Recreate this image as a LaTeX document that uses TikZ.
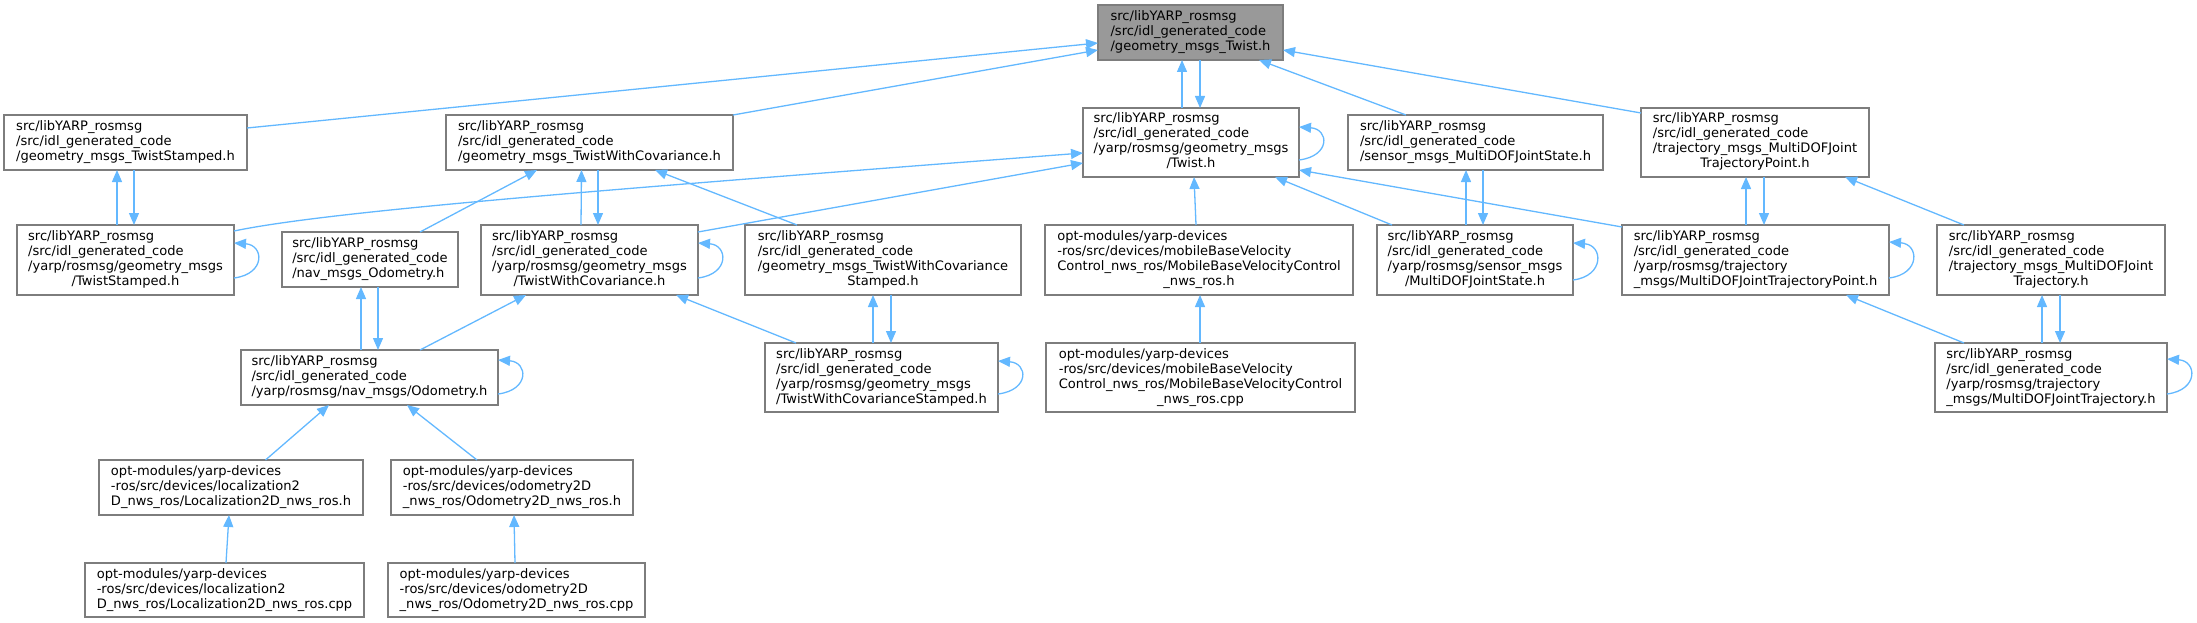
\documentclass[tikz,border=0pt]{standalone}
\usepackage{fontspec}
\setmainfont{DejaVu Sans}
\usetikzlibrary{arrows.meta,calc}
\definecolor{edgeblue}{HTML}{63B8FF}
\definecolor{bordergray}{HTML}{7D7D7D}
\definecolor{rootfill}{HTML}{999999}
\newcommand{\Lthree}[3]{\begin{tabular}{@{}l@{}}#1\\#2\\#3\end{tabular}}
\newcommand{\Lfour}[4]{\begin{tabular}{@{}l@{}}#1\\#2\\#3\\\multicolumn{1}{@{}c@{}}{#4}\end{tabular}}
\newcommand{\SL}{src/libYARP\_rosmsg}
\newcommand{\SI}{/src/idl\_generated\_code}
\newcommand{\OM}{opt-modules/yarp-devices}
\tikzset{
  box/.style={draw=bordergray, line width=1.3pt, fill=white, inner sep=0pt, outer sep=0pt,
    font=\fontsize{13.06}{15}\selectfont},
  lnk/.style={draw=edgeblue, line width=1.3pt, -{Triangle[length=12pt,width=10pt]}},
}
\begin{document}
\begin{tikzpicture}[x=1pt,y=-1pt]
\useasboundingbox (0,0) rectangle (2197,623);
% row 0
\node[box, fill=rootfill, minimum width=185pt, minimum height=55pt] (root) at (1190.5,32.5) {\Lthree{\SL}{\SI}{/geometry\_msgs\_Twist.h}};
% row 1
\node[box, minimum width=243pt, minimum height=55pt] (TS) at (125.5,142.5) {\Lthree{\SL}{\SI}{/geometry\_msgs\_TwistStamped.h}};
\node[box, minimum width=287pt, minimum height=55pt] (TWC) at (589.5,142.5) {\Lthree{\SL}{\SI}{/geometry\_msgs\_TwistWithCovariance.h}};
\node[box, minimum width=216pt, minimum height=69pt] (yTwist) at (1191,142.5) {\Lfour{\SL}{\SI}{/yarp/rosmsg/geometry\_msgs}{/Twist.h}};
\node[box, minimum width=255pt, minimum height=55pt] (SMS) at (1475.5,142.5) {\Lthree{\SL}{\SI}{/sensor\_msgs\_MultiDOFJointState.h}};
\node[box, minimum width=228pt, minimum height=69pt] (TMP) at (1755,142.5) {\Lfour{\SL}{\SI}{/trajectory\_msgs\_MultiDOFJoint}{TrajectoryPoint.h}};
% row 2
\node[box, minimum width=217pt, minimum height=70pt] (yTS) at (125.5,260) {\Lfour{\SL}{\SI}{/yarp/rosmsg/geometry\_msgs}{/TwistStamped.h}};
\node[box, minimum width=176pt, minimum height=55pt] (nav) at (370,259.5) {\Lthree{\SL}{\SI}{/nav\_msgs\_Odometry.h}};
\node[box, minimum width=217pt, minimum height=70pt] (yTWC) at (589.5,260) {\Lfour{\SL}{\SI}{/yarp/rosmsg/geometry\_msgs}{/TwistWithCovariance.h}};
\node[box, minimum width=276pt, minimum height=70pt] (TWCS) at (883,260) {\Lfour{\SL}{\SI}{/geometry\_msgs\_TwistWithCovariance}{Stamped.h}};
\node[box, minimum width=308pt, minimum height=70pt] (MBV) at (1199,260) {\Lfour{\OM}{-ros/src/devices/mobileBaseVelocity}{Control\_nws\_ros/MobileBaseVelocityControl}{\_nws\_ros.h}};
\node[box, minimum width=196pt, minimum height=70pt] (ySMS) at (1475,260) {\Lfour{\SL}{\SI}{/yarp/rosmsg/sensor\_msgs}{/MultiDOFJointState.h}};
\node[box, minimum width=267pt, minimum height=70pt] (yTMP) at (1755.5,260) {\Lfour{\SL}{\SI}{/yarp/rosmsg/trajectory}{\_msgs/MultiDOFJointTrajectoryPoint.h}};
\node[box, minimum width=228pt, minimum height=70pt] (TMJ) at (2051,260) {\Lfour{\SL}{\SI}{/trajectory\_msgs\_MultiDOFJoint}{Trajectory.h}};
% row 3
\node[box, minimum width=257pt, minimum height=55pt] (yOdom) at (369.5,377.5) {\Lthree{\SL}{\SI}{/yarp/rosmsg/nav\_msgs/Odometry.h}};
\node[box, minimum width=233pt, minimum height=69pt] (yTWCS) at (881.5,377.5) {\Lfour{\SL}{\SI}{/yarp/rosmsg/geometry\_msgs}{/TwistWithCovarianceStamped.h}};
\node[box, minimum width=309pt, minimum height=69pt] (MBVcpp) at (1200.5,377.5) {\Lfour{\OM}{-ros/src/devices/mobileBaseVelocity}{Control\_nws\_ros/MobileBaseVelocityControl}{\_nws\_ros.cpp}};
\node[box, minimum width=232pt, minimum height=69pt] (yTMJ) at (2051,377.5) {\Lfour{\SL}{\SI}{/yarp/rosmsg/trajectory}{\_msgs/MultiDOFJointTrajectory.h}};
% row 4
\node[box, minimum width=264pt, minimum height=55pt] (Loch) at (231,487.5) {\Lthree{\OM}{-ros/src/devices/localization2}{D\_nws\_ros/Localization2D\_nws\_ros.h}};
\node[box, minimum width=242pt, minimum height=55pt] (Odoh) at (512,487.5) {\Lthree{\OM}{-ros/src/devices/odometry2D}{\_nws\_ros/Odometry2D\_nws\_ros.h}};
% row 5
\node[box, minimum width=279pt, minimum height=54pt] (Loccpp) at (224.5,590) {\Lthree{\OM}{-ros/src/devices/localization2}{D\_nws\_ros/Localization2D\_nws\_ros.cpp}};
\node[box, minimum width=257pt, minimum height=54pt] (Odocpp) at (516.5,590) {\Lthree{\OM}{-ros/src/devices/odometry2D}{\_nws\_ros/Odometry2D\_nws\_ros.cpp}};

% edges into root
\draw[lnk] ($(TS.north west)+(243,13)$) -- ($(root.north west)+(0,38)$);
\draw[lnk] (TWC.north east) -- ($(root.north west)+(0,45)$);
\draw[lnk] ($(yTwist.north west)+(99,0)$) -- ($(root.north west)+(84,55)$);
\draw[lnk] ($(root.north west)+(102,55)$) -- ($(yTwist.north west)+(117,0)$);
\draw[lnk] ($(SMS.north west)+(58,0)$) -- ($(root.north west)+(161,55)$);
\draw[lnk] ($(TMP.north west)+(0,5)$) -- ($(root.north west)+(185,45)$);
% edges into yTwist
\draw[lnk] ($(yTwist.north west)+(216,52)$) .. controls +(32,-4) and +(30,2) .. ($(yTwist.north west)+(216,19)$);
\draw[lnk] ($(yTS.north west)+(217,6)$) .. controls (330,211) and (600,190) .. ($(yTwist.north west)+(0,45)$);
\draw[lnk] ($(yTWC.north west)+(217,7)$) -- ($(yTwist.north west)+(0,55)$);
\draw[lnk] ($(MBV.north west)+(151,0)$) -- ($(yTwist.north west)+(111,69)$);
\draw[lnk] ($(ySMS.north west)+(15,0)$) -- ($(yTwist.north west)+(192,69)$);
\draw[lnk] ($(yTMP.north west)+(0,2)$) -- ($(yTwist.north west)+(216,62)$);
% sensor
\draw[lnk] ($(ySMS.north west)+(89,0)$) -- ($(SMS.north west)+(118,55)$);
\draw[lnk] ($(SMS.north west)+(135,55)$) -- ($(ySMS.north west)+(106,0)$);
\draw[lnk] ($(ySMS.north west)+(196,55)$) .. controls +(32,-4) and +(30,2) .. ($(ySMS.north west)+(196,18)$);
% trajectory point
\draw[lnk] ($(yTMP.north west)+(124,0)$) -- ($(TMP.north west)+(105,69)$);
\draw[lnk] ($(TMP.north west)+(123,69)$) -- ($(yTMP.north west)+(142,0)$);
\draw[lnk] ($(yTMP.north west)+(267,53)$) .. controls +(32,-4) and +(30,2) .. ($(yTMP.north west)+(267,17)$);
\draw[lnk] ($(TMJ.north west)+(27,0)$) -- ($(TMP.north west)+(204,69)$);
\draw[lnk] ($(yTMJ.north west)+(29,0)$) -- ($(yTMP.north west)+(224,70)$);
% trajectory
\draw[lnk] ($(yTMJ.north west)+(107,0)$) -- ($(TMJ.north west)+(105,70)$);
\draw[lnk] ($(TMJ.north west)+(123,70)$) -- ($(yTMJ.north west)+(125,0)$);
\draw[lnk] ($(yTMJ.north west)+(232,51)$) .. controls +(32,-4) and +(30,2) .. ($(yTMJ.north west)+(232,16)$);
% twist stamped
\draw[lnk] ($(yTS.north west)+(100,0)$) -- ($(TS.north west)+(113,55)$);
\draw[lnk] ($(TS.north west)+(130,55)$) -- ($(yTS.north west)+(117,0)$);
\draw[lnk] ($(yTS.north west)+(217,53)$) .. controls +(32,-4) and +(30,2) .. ($(yTS.north west)+(217,18)$);
% twist with covariance
\draw[lnk] ($(nav.north west)+(138,0)$) -- ($(TWC.north west)+(91,55)$);
\draw[lnk] ($(yTWC.north west)+(100,0)$) -- ($(TWC.north west)+(135.5,55)$);
\draw[lnk] ($(TWC.north west)+(152,55)$) -- ($(yTWC.north west)+(117,0)$);
\draw[lnk] ($(yTWC.north west)+(217,53)$) .. controls +(32,-4) and +(30,2) .. ($(yTWC.north west)+(217,18)$);
\draw[lnk] ($(TWCS.north west)+(52,0)$) -- ($(TWC.north west)+(209,55)$);
\draw[lnk] ($(yOdom.north west)+(179,0)$) -- ($(yTWC.north west)+(45,70)$);
\draw[lnk] ($(yTWCS.north west)+(31,0)$) -- ($(yTWC.north west)+(195,70)$);
% twist with covariance stamped
\draw[lnk] ($(yTWCS.north west)+(108,0)$) -- ($(TWCS.north west)+(128,70)$);
\draw[lnk] ($(TWCS.north west)+(146,70)$) -- ($(yTWCS.north west)+(126,0)$);
\draw[lnk] ($(yTWCS.north west)+(233,51)$) .. controls +(32,-4) and +(30,2) .. ($(yTWCS.north west)+(233,18)$);
% odometry
\draw[lnk] ($(yOdom.north west)+(120,0)$) -- ($(nav.north west)+(79,55)$);
\draw[lnk] ($(nav.north west)+(96,55)$) -- ($(yOdom.north west)+(137,0)$);
\draw[lnk] ($(yOdom.north west)+(257,44)$) .. controls +(32,-4) and +(30,2) .. ($(yOdom.north west)+(257,10)$);
\draw[lnk] ($(Loch.north west)+(166.5,0)$) -- ($(yOdom.north west)+(88,55)$);
\draw[lnk] ($(Odoh.north west)+(86,0)$) -- ($(yOdom.north west)+(166,55)$);
\draw[lnk] ($(Loccpp.north west)+(141,0)$) -- ($(Loch.north west)+(130,55)$);
\draw[lnk] ($(Odocpp.north west)+(127,0)$) -- ($(Odoh.north west)+(123,55)$);
\draw[lnk] ($(MBVcpp.north west)+(154,0)$) -- ($(MBV.north west)+(155,70)$);
\end{tikzpicture}
\end{document}
